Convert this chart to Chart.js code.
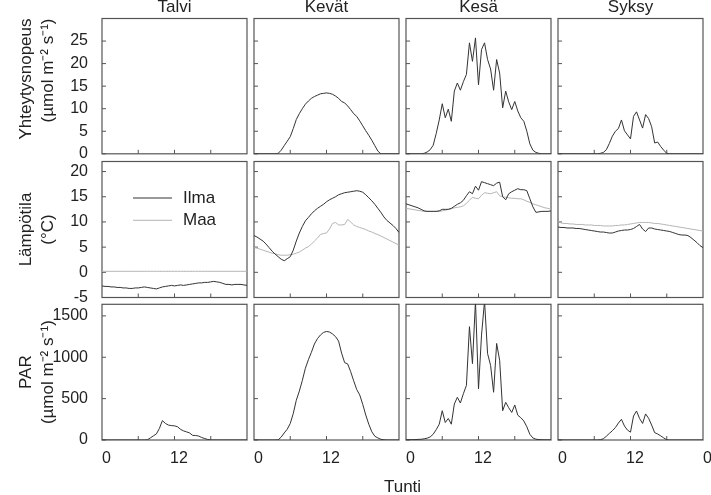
<!DOCTYPE html>
<html><head><meta charset="utf-8">
<script src="https://cdn.jsdelivr.net/npm/chart.js@4.4.0/dist/chart.umd.min.js"></script>
<style>
html,body{margin:0;padding:0;background:#fff;}
#wrap{position:relative;width:711px;height:495px;overflow:hidden;background:#fff;}
#wrap canvas{position:absolute;left:0;top:0;}
</style></head><body><div id="wrap"></div>
<script>
// ---------- categories / labels ----------
const hours = [0,0.5,1,1.5,2,2.5,3,3.5,4,4.5,5,5.5,6,6.5,7,7.5,8,8.5,9,9.5,10,10.5,11,11.5,
               12,12.5,13,13.5,14,14.5,15,15.5,16,16.5,17,17.5,18,18.5,19,19.5,20,20.5,21,21.5,22,22.5,23,23.5,24];
const seasons = ['Talvi','Kevät','Kesä','Syksy'];
const tempSeries = ['Ilma','Maa'];
const rowSeries = ['Yhteytysnopeus','Lämpötila','PAR'];
const yTitles = [['Yhteytysnopeus','(µmol m⁻² s⁻¹)'], ['Lämpötila','(°C)'], ['PAR','(µmol m⁻² s⁻¹)']];
const xLabel = 'Tunti';
const xTickValues = [0, 12, 24];
const xTickLabels = ['0', '12', '0'];
const xMarkValues = [6, 12, 18];
const yTickValues = [[0,5,10,15,20,25], [-5,0,5,10,15,20], [0,500,1000,1500]];
const yMin = [0, -5, 0];
const yMax = [30, 22, 1640];

// ---------- photosynthesis (µmol m-2 s-1) ----------
const talviYht = [];
const kevatYht = [0,0,0,0,0,0,0,0,0.1,0.8,1.8,2.8,
                  3.8,5.6,7.6,8.9,10.0,11.0,11.7,12.3,12.7,13.0,13.3,13.4,
                  13.5,13.4,13.2,12.8,12.3,11.6,11.3,10.6,9.8,8.9,8.3,7.3,
                  6.2,5.1,4.1,3.0,1.8,0.6,0,0,0,0,0,0,
                  0];
const kesaYht = [0,0,0,0,0,0,0.1,0.4,0.9,1.9,4.5,7.5,
                 11.1,8.0,9.9,7.2,13.9,15.7,14.1,16.0,17.6,24.6,20.5,25.7,
                 15.3,23.1,24.6,20.9,18.8,14.1,20.9,17.9,10.2,13.9,11.5,9.8,
                 11.6,9.5,8.0,7.2,5.0,2.2,0.8,0.3,0.1,0,0,0,
                 0];
const syksyYht = [0,0,0,0,0,0,0,0,0,0,0,0,
                  0,0,0.1,0.3,0.9,2.3,3.9,5.0,5.6,7.5,5.1,4.2,
                  3.3,8.3,9.3,7.5,5.7,8.7,7.8,6.0,2.4,2.6,1.6,0.8,
                  0.1,0,0,0,0,0,0,0,0,0,0,0,
                  0];

// ---------- temperature (°C) ----------
const talviIlma = [-2.7,-2.8,-2.8,-2.9,-2.9,-3.0,-3.0,-3.1,-3.1,-3.2,-3.2,-3.1,
                   -3.1,-3.0,-2.9,-3.0,-3.1,-3.2,-3.3,-3.1,-2.9,-2.8,-2.7,-2.6,
                   -2.7,-2.6,-2.5,-2.6,-2.5,-2.4,-2.3,-2.2,-2.1,-2.1,-2.0,-2.0,
                   -1.9,-1.8,-1.9,-2.0,-2.2,-2.4,-2.4,-2.5,-2.4,-2.4,-2.4,-2.5,
                   -2.6];
const talviMaa = [0.2,0.2,0.2,0.2,0.2,0.2,0.2,0.2,0.2,0.2,0.2,0.2,
                  0.2,0.2,0.2,0.2,0.2,0.2,0.2,0.2,0.2,0.2,0.2,0.2,
                  0.2,0.2,0.2,0.2,0.2,0.2,0.2,0.2,0.2,0.2,0.2,0.2,
                  0.2,0.2,0.2,0.2,0.2,0.2,0.2,0.2,0.2,0.2,0.2,0.2,
                  0.2];
const kevatIlma = [7.3,7.0,6.6,6.2,5.6,4.9,4.2,3.6,3.1,2.6,2.3,2.7,
                   3.1,4.4,6.2,7.8,9.1,10.2,10.9,11.6,12.2,12.7,13.1,13.5,
                   14.0,14.4,14.7,15.0,15.4,15.6,15.8,15.9,16.0,16.1,16.2,16.1,
                   15.9,15.4,14.8,14.2,13.5,12.7,11.9,11.0,10.3,9.8,9.3,8.7,
                   7.9];
const kevatMaa = [4.9,4.8,4.6,4.4,4.2,4.0,3.8,3.7,3.5,3.4,3.4,3.4,
                  3.5,3.6,3.8,4.0,4.4,4.8,5.1,5.6,6.2,6.8,7.5,7.7,
                  7.8,8.6,9.7,9.9,9.4,9.4,9.5,10.5,10.0,9.4,9.1,8.9,
                  8.7,8.5,8.2,8.0,7.7,7.5,7.2,6.9,6.6,6.3,6.0,5.7,
                  5.4];
const kesaIlma = [13.6,13.4,13.2,13.0,12.8,12.5,12.2,12.1,12.1,12.1,12.1,12.2,
                  12.5,12.5,12.5,12.7,13.1,13.5,13.8,14.3,15.2,16.0,15.6,17.1,
                  16.3,18.0,17.8,17.6,17.4,17.2,17.7,17.9,15.0,14.4,15.6,16.0,
                  16.3,16.6,16.4,16.4,16.2,14.6,13.0,11.9,12.0,12.1,12.1,12.1,
                  12.2];
const kesaMaa = [12.7,12.6,12.5,12.4,12.3,12.2,12.1,12.1,12.1,12.1,12.1,12.1,
                 12.2,12.3,12.5,12.6,12.8,12.9,13.0,13.2,13.7,14.3,14.9,14.7,
                 14.6,15.3,15.8,15.7,15.6,15.8,16.0,15.2,15.0,14.9,14.8,14.7,
                 14.7,14.6,14.6,14.4,14.1,13.9,13.6,13.4,13.2,13.0,12.8,12.7,
                 12.5];
const syksyIlma = [9.0,8.9,8.9,8.8,8.8,8.8,8.7,8.7,8.6,8.5,8.4,8.3,
                   8.2,8.1,8.0,8.0,7.9,7.8,7.8,8.0,8.2,8.3,8.4,8.4,
                   8.5,8.7,9.1,9.5,8.6,8.1,8.8,8.8,8.6,8.5,8.4,8.3,
                   8.2,8.1,7.9,7.7,7.5,7.4,7.4,7.3,6.9,6.4,5.9,5.3,
                   4.9];
const syksyMaa = [10.1,9.8,9.7,9.7,9.6,9.6,9.5,9.5,9.5,9.4,9.4,9.4,
                  9.3,9.3,9.3,9.2,9.2,9.2,9.2,9.3,9.3,9.4,9.4,9.5,
                  9.6,9.7,9.8,9.9,9.9,9.9,9.9,9.8,9.7,9.7,9.6,9.5,
                  9.4,9.3,9.2,9.1,9.0,8.9,8.8,8.7,8.6,8.5,8.4,8.3,
                  8.2];

// ---------- PAR (µmol m-2 s-1) ----------
const talviPar = [0,0,0,0,0,0,0,0,0,0,0,0,
                  0,0,0,2,25,50,73,140,234,200,180,174,
                  171,160,129,110,98,85,56,54,48,30,18,6,
                  0,0,0,0,0,0,0,0,0,0,0,0,
                  0];
const kevatPar = [0,0,0,0,0,0,0,0,2,35,85,130,
                  200,320,480,590,720,866,970,1060,1160,1225,1269,1300,
                  1312,1305,1282,1249,1195,1050,935,920,826,715,610,545,
                  430,302,190,100,45,25,8,2,0,0,0,0,
                  0];
const kesaPar = [2,3,4,5,7,9,14,22,37,70,125,190,
                 354,211,260,191,435,516,447,560,659,1370,923,1680,
                 618,1268,1680,1045,902,577,1167,963,354,455,390,333,
                 423,300,270,230,160,69,25,10,5,3,2,2,
                 2];
const syksyPar = [0,0,0,0,0,0,0,0,0,0,0,0,
                  0,0,3,15,45,80,112,150,205,250,169,120,
                  95,290,350,260,200,315,262,180,89,72,50,25,
                  2,0,0,0,0,0,0,0,0,0,0,0,
                  0];

// ---------- assemble ----------
const panelData = [
  [[talviYht], [kevatYht], [kesaYht], [syksyYht]],
  [[talviIlma, talviMaa], [kevatIlma, kevatMaa], [kesaIlma, kesaMaa], [syksyIlma, syksyMaa]],
  [[talviPar], [kevatPar], [kesaPar], [syksyPar]]
];

// ---------- layout & style ----------
const W = 711, H = 495;
const FONT = '"Liberation Sans", Arial, Helvetica, sans-serif';
const colLeft = [102, 254, 406, 558];
const colWidth = 145;
const rowTop = [18.5, 161.5, 304.3];
const rowBottom = [153.8, 297.5, 440];
const xAxisBand = 40;
const titleLine = 15.5;
const DARK = '#333333', LIGHT = '#b4b4b4', FRAME = '#555555', TEXT = '#222222';

Chart.defaults.font.family = FONT;
Chart.defaults.color = TEXT;

function zeroPad(s) { s.paddingTop = 0; s.paddingBottom = 0; s.paddingLeft = 0; s.paddingRight = 0; }

function makeDecor(r, c) {
  return {
    id: 'decor' + r + c,
    beforeDatasetsDraw(chart) {
      const {ctx, chartArea: a, scales} = chart;
      ctx.save();
      ctx.strokeStyle = FRAME;
      ctx.lineWidth = 1.2;
      ctx.strokeRect(a.left, a.top, a.right - a.left, a.bottom - a.top);
      ctx.lineWidth = 1;
      ctx.beginPath();
      xMarkValues.forEach(v => {
        const x = scales.x.getPixelForValue(v);
        ctx.moveTo(x, a.bottom); ctx.lineTo(x, a.bottom - 4);
      });
      yTickValues[r].forEach(v => {
        const y = scales.y.getPixelForValue(v);
        ctx.moveTo(a.left, y); ctx.lineTo(a.left + 4, y);
      });
      ctx.stroke();
      ctx.restore();
    },
    afterDraw(chart) {
      const {ctx} = chart;
      ctx.save();
      if (r === 1 && c === 0) {
        ctx.font = '17px ' + FONT;
        ctx.textBaseline = 'middle';
        ctx.textAlign = 'left';
        chart.data.datasets.forEach((ds, i) => {
          const y = 198 + i * 22.3;
          ctx.strokeStyle = ds.borderColor;
          ctx.lineWidth = 1;
          ctx.beginPath(); ctx.moveTo(133, y); ctx.lineTo(172, y); ctx.stroke();
          ctx.fillStyle = TEXT;
          ctx.fillText(ds.label, 183, y);
        });
      }
      if (r === 2 && c === 3) {
        ctx.font = '17px ' + FONT;
        ctx.textBaseline = 'middle';
        ctx.textAlign = 'center';
        ctx.fillStyle = TEXT;
        ctx.fillText(xLabel, (colLeft[0] + colLeft[3] + colWidth) / 2, 487);
      }
      ctx.restore();
    }
  };
}

const wrap = document.getElementById('wrap');
for (let r = 0; r < 3; r++) {
  for (let c = 0; c < 4; c++) {
    const cv = document.createElement('canvas');
    cv.width = W; cv.height = H;
    cv.style.width = W + 'px'; cv.style.height = H + 'px';
    wrap.appendChild(cv);
    const series = panelData[r][c];
    const datasets = series.map((vals, i) => ({
      label: r === 1 ? tempSeries[i] : rowSeries[r],
      data: vals.map((v, k) => ({x: hours[k], y: v})),
      borderColor: (r === 1 && i === 1) ? LIGHT : DARK,
      borderWidth: 1,
      pointRadius: 0,
      tension: 0,
      fill: false
    }));
    const xVals = c === 3 ? xTickValues : xTickValues.slice(0, 2);
    const band = r === 2 ? xAxisBand : 0;
    new Chart(cv, {
      type: 'line',
      data: {datasets},
      plugins: [makeDecor(r, c)],
      options: {
        responsive: false,
        animation: false,
        events: [],
        layout: {padding: {
          left: c === 0 ? 0 : colLeft[c],
          right: W - (colLeft[c] + colWidth),
          top: r === 0 ? 0 : rowTop[r],
          bottom: H - rowBottom[r] - band
        }},
        plugins: {
          legend: {display: false},
          tooltip: {enabled: false},
          title: {
            display: r === 0,
            text: seasons[c],
            fullSize: false,
            color: TEXT,
            font: {size: 17, weight: 'normal', lineHeight: titleLine + 'px'},
            padding: {top: 0, bottom: rowTop[0] - titleLine}
          }
        },
        scales: {
          x: {
            type: 'linear', min: 0, max: 24, bounds: 'data',
            afterBuildTicks: s => { s.ticks = xVals.map(v => ({value: v})); },
            afterFit: s => { s.height = band; zeroPad(s); },
            grid: {display: false, drawTicks: false},
            border: {display: false},
            ticks: {
              display: r === 2, padding: 9.4, labelOffset: 4.5,
              maxRotation: 0, autoSkip: false, color: TEXT,
              font: {size: 16},
              callback: v => xTickLabels[xTickValues.indexOf(v)]
            }
          },
          y: {
            type: 'linear', min: yMin[r], max: yMax[r], bounds: 'data',
            afterBuildTicks: s => { s.ticks = yTickValues[r].map(v => ({value: v})); },
            afterFit: s => { s.width = c === 0 ? colLeft[0] : 0; zeroPad(s); },
            grid: {display: false, drawTicks: false},
            border: {display: false},
            ticks: {
              display: c === 0, padding: 14, color: TEXT,
              font: {size: 16},
              callback: v => String(v)
            },
            title: {
              display: c === 0,
              text: yTitles[r],
              color: TEXT,
              align: r === 0 ? 'end' : 'center',
              font: {size: 17, lineHeight: '22px'},
              padding: {top: 15, bottom: 0}
            }
          }
        }
      }
    });
  }
}
</script>
</body></html>
